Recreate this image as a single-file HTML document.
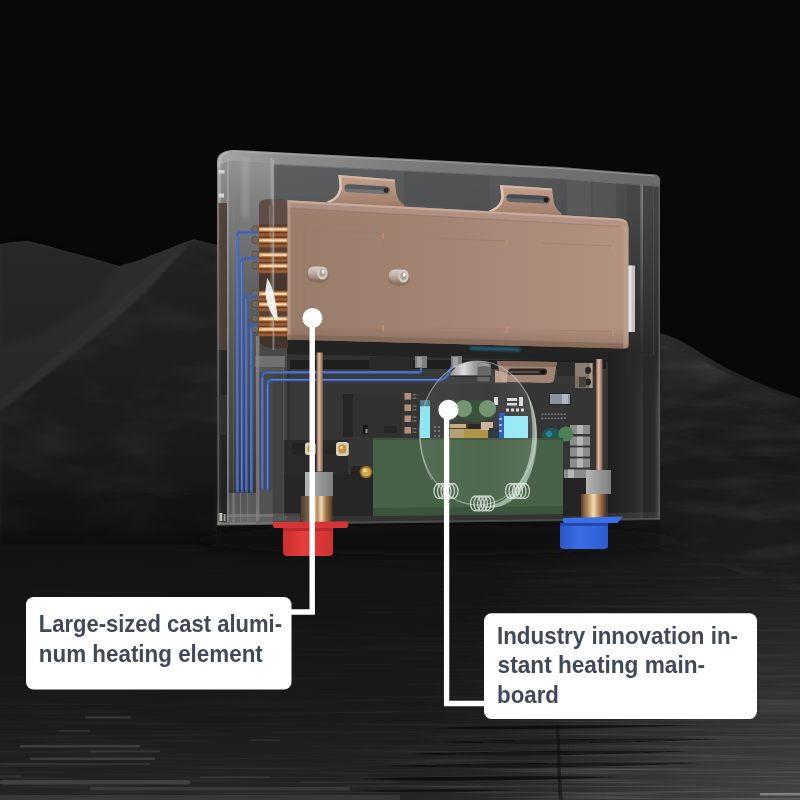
<!DOCTYPE html>
<html lang="en">
<head>
<meta charset="utf-8">
<title>Instant water heater – internal structure</title>
<style>
  html, body { margin: 0; padding: 0; background: #070707; }
  body { width: 800px; height: 800px; overflow: hidden; font-family: "Liberation Sans", sans-serif; }
  svg { display: block; }
  .lbl { font-family: "Liberation Sans", sans-serif; font-weight: bold; font-size: 23.2px; fill: #40485a; }
</style>
</head>
<body>
<svg width="800" height="800" viewBox="0 0 800 800">
  <defs>
    <linearGradient id="mtnL" gradientUnits="userSpaceOnUse" x1="0" y1="238" x2="0" y2="545">
      <stop offset="0" stop-color="#2e2e2e"/>
      <stop offset="0.35" stop-color="#2a2a2a"/>
      <stop offset="0.7" stop-color="#242424"/>
      <stop offset="0.92" stop-color="#1c1c1c"/>
      <stop offset="1" stop-color="#141414"/>
    </linearGradient>
    <linearGradient id="mtnR" gradientUnits="userSpaceOnUse" x1="0" y1="330" x2="0" y2="580">
      <stop offset="0" stop-color="#2a2a2a"/>
      <stop offset="0.2" stop-color="#222222"/>
      <stop offset="0.45" stop-color="#1a1a1a"/>
      <stop offset="0.75" stop-color="#161616"/>
      <stop offset="1" stop-color="#121212"/>
    </linearGradient>
    <linearGradient id="water" gradientUnits="userSpaceOnUse" x1="0" y1="540" x2="0" y2="800">
      <stop offset="0" stop-color="#131313"/>
      <stop offset="0.5" stop-color="#161616"/>
      <stop offset="1" stop-color="#1c1c1c"/>
    </linearGradient>
    <linearGradient id="copperBox" gradientUnits="userSpaceOnUse" x1="287" y1="0" x2="627" y2="0">
      <stop offset="0" stop-color="#997b6a"/>
      <stop offset="0.45" stop-color="#a38472"/>
      <stop offset="1" stop-color="#b3927f"/>
    </linearGradient>
    <linearGradient id="copperV" gradientUnits="userSpaceOnUse" x1="0" y1="200" x2="0" y2="350">
      <stop offset="0" stop-color="#ffffff" stop-opacity="0.10"/>
      <stop offset="0.12" stop-color="#ffffff" stop-opacity="0"/>
      <stop offset="0.85" stop-color="#000000" stop-opacity="0"/>
      <stop offset="1" stop-color="#000000" stop-opacity="0.18"/>
    </linearGradient>
    <linearGradient id="glassSide" gradientUnits="userSpaceOnUse" x1="0" y1="150" x2="0" y2="525">
      <stop offset="0" stop-color="#989898"/>
      <stop offset="0.12" stop-color="#828282"/>
      <stop offset="0.35" stop-color="#646464"/>
      <stop offset="0.6" stop-color="#4e4e4e"/>
      <stop offset="0.8" stop-color="#424242"/>
      <stop offset="0.92" stop-color="#383838"/>
      <stop offset="1" stop-color="#555555"/>
    </linearGradient>
    <linearGradient id="glassUp" gradientUnits="userSpaceOnUse" x1="273" y1="0" x2="660" y2="0">
      <stop offset="0" stop-color="#58595a"/>
      <stop offset="0.25" stop-color="#56585a"/>
      <stop offset="0.6" stop-color="#525456"/>
      <stop offset="0.85" stop-color="#4c4d4e"/>
      <stop offset="1" stop-color="#444444"/>
    </linearGradient>
    <linearGradient id="glassTop" gradientUnits="userSpaceOnUse" x1="217" y1="0" x2="660" y2="0">
      <stop offset="0" stop-color="#a6a6a6"/>
      <stop offset="0.15" stop-color="#8e8e8e"/>
      <stop offset="0.5" stop-color="#787878"/>
      <stop offset="1" stop-color="#6a6a6a"/>
    </linearGradient>
    <linearGradient id="glassRight" gradientUnits="userSpaceOnUse" x1="608" y1="0" x2="660" y2="0">
      <stop offset="0" stop-color="#1f1f1f"/>
      <stop offset="0.25" stop-color="#242424"/>
      <stop offset="0.5" stop-color="#2b2b2b"/>
      <stop offset="0.62" stop-color="#323232"/>
      <stop offset="0.7" stop-color="#262626"/>
      <stop offset="0.9" stop-color="#2c2c2c"/>
      <stop offset="0.96" stop-color="#444444"/>
      <stop offset="1" stop-color="#343434"/>
    </linearGradient>
    <linearGradient id="gold" x1="0" y1="0" x2="1" y2="0">
      <stop offset="0" stop-color="#5d3e2a"/>
      <stop offset="0.28" stop-color="#b98c5e"/>
      <stop offset="0.5" stop-color="#f1dcb0"/>
      <stop offset="0.72" stop-color="#b5845a"/>
      <stop offset="1" stop-color="#553624"/>
    </linearGradient>
    <linearGradient id="rod" x1="0" y1="0" x2="1" y2="0">
      <stop offset="0" stop-color="#7c5a48"/>
      <stop offset="0.4" stop-color="#dcbca8"/>
      <stop offset="1" stop-color="#86624e"/>
    </linearGradient>
    <linearGradient id="ring" x1="0" y1="0" x2="0" y2="1">
      <stop offset="0" stop-color="#7a4220"/>
      <stop offset="0.3" stop-color="#e8a868"/>
      <stop offset="0.5" stop-color="#f6c890"/>
      <stop offset="0.75" stop-color="#c88048"/>
      <stop offset="1" stop-color="#6a3618"/>
    </linearGradient>
    <linearGradient id="greyBlk" x1="0" y1="0" x2="1" y2="0">
      <stop offset="0" stop-color="#b4b4b4"/>
      <stop offset="0.5" stop-color="#9a9a9a"/>
      <stop offset="1" stop-color="#7e7e7e"/>
    </linearGradient>
    <linearGradient id="redF" x1="0" y1="0" x2="1" y2="0">
      <stop offset="0" stop-color="#c92f2f"/>
      <stop offset="0.4" stop-color="#e43d3d"/>
      <stop offset="1" stop-color="#cf3232"/>
    </linearGradient>
    <linearGradient id="blueF" x1="0" y1="0" x2="1" y2="0">
      <stop offset="0" stop-color="#2a57c4"/>
      <stop offset="0.4" stop-color="#3a6ee6"/>
      <stop offset="1" stop-color="#2c5cd0"/>
    </linearGradient>
    <linearGradient id="lensHi" gradientUnits="userSpaceOnUse" x1="420" y1="0" x2="536" y2="0">
      <stop offset="0" stop-color="#ffffff" stop-opacity="0.07"/>
      <stop offset="0.6" stop-color="#ffffff" stop-opacity="0.04"/>
      <stop offset="1" stop-color="#ffffff" stop-opacity="0.12"/>
    </linearGradient>
    <linearGradient id="metal" x1="0" y1="0" x2="1" y2="0">
      <stop offset="0" stop-color="#9a9a9a"/>
      <stop offset="0.35" stop-color="#e8e8e8"/>
      <stop offset="0.6" stop-color="#a8a8a8"/>
      <stop offset="1" stop-color="#6a6a6a"/>
    </linearGradient>
    <linearGradient id="sheenV" gradientUnits="userSpaceOnUse" x1="0" y1="600" x2="0" y2="800">
      <stop offset="0" stop-color="#ffffff" stop-opacity="0"/>
      <stop offset="0.6" stop-color="#ffffff" stop-opacity="0.01"/>
      <stop offset="1" stop-color="#ffffff" stop-opacity="0.04"/>
    </linearGradient>
    <radialGradient id="sheenR" gradientUnits="userSpaceOnUse" cx="820" cy="830" r="420">
      <stop offset="0" stop-color="#ffffff" stop-opacity="0.15"/>
      <stop offset="0.35" stop-color="#ffffff" stop-opacity="0.10"/>
      <stop offset="0.7" stop-color="#ffffff" stop-opacity="0.03"/>
      <stop offset="1" stop-color="#ffffff" stop-opacity="0"/>
    </radialGradient>
    <filter id="streaks" x="0" y="0" width="100%" height="100%" filterUnits="objectBoundingBox">
      <feTurbulence type="fractalNoise" baseFrequency="0.006 0.35" numOctaves="2" seed="7" result="n"/>
      <feColorMatrix in="n" type="matrix" values="0 0 0 0 1  0 0 0 0 1  0 0 0 0 1  2.2 0 0 0 -1.05" result="a"/>
      <feComposite in="a" in2="SourceGraphic" operator="in"/>
    </filter>
    <filter id="rock" x="0" y="0" width="100%" height="100%" filterUnits="objectBoundingBox">
      <feTurbulence type="fractalNoise" baseFrequency="0.012 0.03" numOctaves="4" seed="3" result="n"/>
      <feColorMatrix in="n" type="matrix" values="0 0 0 0 1  0 0 0 0 1  0 0 0 0 1  1.6 0 0 0 -0.72" result="a"/>
      <feComposite in="a" in2="SourceGraphic" operator="in"/>
    </filter>
    <linearGradient id="streakFade" gradientUnits="userSpaceOnUse" x1="0" y1="560" x2="0" y2="800">
      <stop offset="0" stop-color="#ffffff" stop-opacity="0.04"/>
      <stop offset="0.5" stop-color="#ffffff" stop-opacity="0.08"/>
      <stop offset="1" stop-color="#ffffff" stop-opacity="0.22"/>
    </linearGradient>
    <linearGradient id="streakFadeH" gradientUnits="userSpaceOnUse" x1="0" y1="0" x2="800" y2="0">
      <stop offset="0" stop-color="#000000" stop-opacity="0.65"/>
      <stop offset="0.45" stop-color="#000000" stop-opacity="0.55"/>
      <stop offset="0.8" stop-color="#000000" stop-opacity="0"/>
    </linearGradient>
    <mask id="streakMask" maskUnits="userSpaceOnUse" x="0" y="560" width="800" height="240">
      <rect x="0" y="560" width="800" height="240" fill="url(#streakFade)"/>
      <rect x="0" y="560" width="800" height="240" fill="url(#streakFadeH)"/>
    </mask>
    <linearGradient id="upTopFade" gradientUnits="userSpaceOnUse" x1="0" y1="160" x2="0" y2="215">
      <stop offset="0" stop-color="#ffffff" stop-opacity="0.03"/>
      <stop offset="1" stop-color="#ffffff" stop-opacity="0"/>
    </linearGradient>
    <linearGradient id="brk" x1="0" y1="0" x2="0" y2="1">
      <stop offset="0" stop-color="#c4a28e"/>
      <stop offset="0.5" stop-color="#b38f7a"/>
      <stop offset="1" stop-color="#9c7a66"/>
    </linearGradient>
    <linearGradient id="scr" x1="0" y1="0" x2="0" y2="1">
      <stop offset="0" stop-color="#d9cdc6"/>
      <stop offset="0.45" stop-color="#c2b2aa"/>
      <stop offset="1" stop-color="#8e7a70"/>
    </linearGradient>
    <linearGradient id="rightFade" gradientUnits="userSpaceOnUse" x1="0" y1="205" x2="0" y2="353">
      <stop offset="0" stop-color="#282828" stop-opacity="0"/>
      <stop offset="0.5" stop-color="#282828" stop-opacity="0.45"/>
      <stop offset="1" stop-color="#282828" stop-opacity="0.95"/>
    </linearGradient>
    <filter id="rockR" x="0" y="0" width="100%" height="100%" filterUnits="objectBoundingBox">
      <feTurbulence type="fractalNoise" baseFrequency="0.01 0.05" numOctaves="4" seed="11" result="n"/>
      <feColorMatrix in="n" type="matrix" values="0 0 0 0 1  0 0 0 0 1  0 0 0 0 1  1.8 0 0 0 -0.8" result="a"/>
      <feComposite in="a" in2="SourceGraphic" operator="in"/>
    </filter>
    <linearGradient id="gold2" x1="0" y1="0" x2="1" y2="0">
      <stop offset="0" stop-color="#4c3c30"/>
      <stop offset="0.25" stop-color="#7c6450"/>
      <stop offset="0.42" stop-color="#e8d4b0"/>
      <stop offset="0.52" stop-color="#b08858"/>
      <stop offset="0.64" stop-color="#f0dcb4"/>
      <stop offset="0.78" stop-color="#a87c50"/>
      <stop offset="1" stop-color="#4a3424"/>
    </linearGradient>
    <linearGradient id="rightFade2" gradientUnits="userSpaceOnUse" x1="0" y1="352" x2="0" y2="412">
      <stop offset="0" stop-color="#282828" stop-opacity="0.95"/>
      <stop offset="1" stop-color="#282828" stop-opacity="0"/>
    </linearGradient>
    <filter id="b1" x="-20%" y="-60%" width="140%" height="220%"><feGaussianBlur stdDeviation="1"/></filter>
    <filter id="b2" x="-30%" y="-60%" width="160%" height="220%"><feGaussianBlur stdDeviation="2.5"/></filter>
    <filter id="b6" x="-30%" y="-150%" width="160%" height="400%"><feGaussianBlur stdDeviation="6"/></filter>
    <filter id="b05" x="-10%" y="-10%" width="120%" height="120%"><feGaussianBlur stdDeviation="0.5"/></filter>
  </defs>

  <!-- ============ BACKGROUND ============ -->
  <rect width="800" height="800" fill="#080808"/>

  <!-- left mountain range -->
  <path d="M0,244 L12,242 L28,241 L45,245 L62,250 L92,258 L119,266 L140,260 L160,252 L180,244 L194,239 L205,242 L217,245 L217,560 L0,560 Z" fill="url(#mtnL)"/>
  <!-- facets / shading on left mountains -->
  <path d="M0,244 L28,241 L62,250 L119,266 L95,300 L40,335 L0,345 Z" fill="#000000" opacity="0.12" filter="url(#b2)"/>
  <path d="M194,239 L217,245 L217,565 L0,565 L0,412 L60,365 L110,325 L150,288 Z" fill="#000000" opacity="0.26" filter="url(#b1)"/>
  <path d="M194,239 L150,288 L110,325 L60,365 L0,412 L0,400 L60,352 L108,312 L146,277 Z" fill="#ffffff" opacity="0.018" filter="url(#b1)"/>
  <g opacity="0.07"><path d="M194,239 L217,245 L217,545 L0,545 L0,412 L60,365 L110,325 L150,288 Z" fill="#ffffff" filter="url(#rock)"/></g>
  <path d="M0,500 C60,490 130,500 217,490 L217,548 L0,548 Z" fill="#0c0c0c" opacity="0.3" filter="url(#b2)"/>
  <!-- right mountain -->
  <path d="M655,332 C672,335 688,344 704,355 C730,372 768,388 800,398 L800,600 L655,600 Z" fill="url(#mtnR)"/>
  <path d="M662,336 C680,342 700,356 730,374 L700,395 L662,410 Z" fill="#343434" opacity="0.3" filter="url(#b2)"/>
  <g opacity="0.09"><path d="M660,345 C690,350 730,380 800,402 L800,590 L660,590 Z" fill="#ffffff" filter="url(#rockR)"/></g>
  <g fill="none" stroke="#0c0c0c" stroke-width="3" opacity="0.22" filter="url(#b2)">
    <path d="M662,396 C690,384 735,400 800,418"/>
    <path d="M662,452 C720,436 750,462 800,470"/>
    <path d="M662,512 C700,498 770,506 800,530"/>
  </g>
  <!-- water -->
  <path d="M0,545 L217,545 L660,548 C700,556 750,578 800,592 L800,800 L0,800 Z" fill="url(#water)"/>
  <rect x="217" y="520" width="443" height="30" fill="#111111"/>
  <ellipse cx="438" cy="540" rx="245" ry="15" fill="#0b0b0b" opacity="0.55" filter="url(#b6)"/>
    <!-- soft sheen: brighter toward bottom, esp. right -->
  <rect x="0" y="600" width="800" height="200" fill="url(#sheenV)"/>
  <rect x="380" y="400" width="420" height="400" fill="url(#sheenR)"/>
  <!-- turbulent streak texture -->
  <g mask="url(#streakMask)"><rect x="0" y="560" width="800" height="240" fill="#ffffff" filter="url(#streaks)"/></g>
  <!-- a few defined streaks -->
  <g fill="#444444" filter="url(#b05)">
    <rect x="85" y="716.5" width="46" height="2" rx="1" opacity="0.7"/>
    <rect x="57" y="730" width="33" height="1.6" rx="0.8" opacity="0.5"/>
    <rect x="20" y="745" width="120" height="2.6" rx="1.3" opacity="0.8"/>
    <rect x="90" y="750.5" width="70" height="2" rx="1" opacity="0.65"/>
    <rect x="30" y="757.5" width="125" height="2.6" rx="1.3" opacity="0.8"/>
    <rect x="0" y="763" width="150" height="2" rx="1" opacity="0.55"/>
    <rect x="0" y="775.5" width="22" height="1.6" opacity="0.5"/>
    <rect x="0" y="780" width="190" height="4.5" rx="2" opacity="0.85"/>
    <rect x="90" y="787" width="260" height="3.5" rx="1.7" opacity="0.7"/>
    <rect x="200" y="776.5" width="70" height="1.8" rx="0.9" opacity="0.6"/>
    <rect x="250" y="739.5" width="30" height="1.4" rx="0.7" opacity="0.5"/>
    <rect x="0" y="795" width="400" height="5" opacity="0.6"/>
    <rect x="300" y="781.5" width="100" height="1.6" rx="0.8" opacity="0.4"/>
    <rect x="760" y="700" width="40" height="14" opacity="0.45"/>
    <rect x="760" y="793" width="40" height="2.5" fill="#9a9a9a" opacity="0.7"/>
  </g>
  <!-- dark wedges on right -->
  <g fill="#0a0a0a" filter="url(#b05)">
    <path d="M430,728 Q520,725 700,725 Q520,731 430,728 Z" opacity="0.6"/>
    <path d="M440,742 Q560,738 720,739 Q560,746 440,742 Z" opacity="0.65"/>
    <path d="M410,754 Q540,750 690,751 Q540,758 410,754 Z" opacity="0.7"/>
    <path d="M380,766 Q540,761 700,763 Q540,770 380,766 Z" opacity="0.7"/>
    <path d="M360,779 Q480,775 620,777 Q480,783 360,779 Z" opacity="0.6"/>
    <path d="M350,791 Q430,788 520,790 Q430,794 350,791 Z" opacity="0.5"/>
  </g>
  <!-- dark vertical reflection in water -->
  <path d="M558,725 C562,750 559,770 563,800 L559,800 C556,770 559,750 556,725 Z" fill="#0a0a0a" opacity="0.55" filter="url(#b05)"/>

  <!-- ============ GLASS CASE (back layers) ============ -->
  <!-- body base -->
  <path d="M217,524 L217,162 Q217,150 234,150 L450,161 L560,167 L655,174.5 Q660,175 660,180 L660,519 Z" fill="#262626"/>
  <!-- upper interior -->
  <path d="M273,160 L450,169 L560,175 L660,183 L660,356 L273,356 Z" fill="url(#glassUp)"/>
  <path d="M273,160 L450,169 L560,175 L660,183 L660,215 L273,195 Z" fill="url(#upTopFade)"/>
  <!-- subtle vertical panels in upper interior -->
  <path d="M567,176 L591,177.5 L591,216 L567,215 Z" fill="#5c5c5c" opacity="0.7"/>
  <path d="M593,178 L616,179.5 L616,217 L593,216 Z" fill="#585858" opacity="0.7"/>
  <path d="M404,167 L490,171 L490,211 L404,204 Z" fill="#4e4e4e" opacity="0.5"/>
  <path d="M627,180 L660,183 L660,356 L627,356 Z" fill="#464646"/>
  <!-- lower interior -->
  <path d="M258,350 L640,350 L640,518 L258,523 Z" fill="#333333"/>
  <!-- band right under the heater (shadow + blue glow) -->
  <path d="M287,339.5 L627,348.5 L627,362 L287,354 Z" fill="#232323"/>
  <path d="M470,346.5 L520,348 L520,351.5 L470,350 Z" fill="#2a8ab4" opacity="0.55" filter="url(#b1)"/>
  <!-- left side panel -->
  <path d="M217,524 L217,162 Q217,151 232,151 L273,153 L273,522 Z" fill="url(#glassSide)"/>
  <!-- inner darker column behind coil block (x 258-287) -->
  <path d="M258,345 L287,345 L287,520 L258,522 Z" fill="#484848"/>
  <rect x="273" y="367" width="14" height="154" fill="#424242"/>
  <!-- right glass band -->
  <path d="M608,352 L660,352 L660,519 L608,519 Z" fill="url(#glassRight)"/>
  <path d="M643,182 L660,183 L660,356 L643,356 Z" fill="#444444"/>
  <path d="M640.5,183 L643,183.3 L643,352 L640.5,352 Z" fill="#9a9a9a" opacity="0.6"/>
  <path d="M640.5,352 L643,352 L643,519 L640.5,519 Z" fill="#6a6a6a" opacity="0.15"/>
  <rect x="627" y="205" width="33" height="148" fill="url(#rightFade)"/>
  <rect x="627" y="352" width="33" height="60" fill="url(#rightFade2)"/>
  <!-- top rim -->
  <path d="M217,166 Q217,150 234,150 L450,161 L560,167 L655,174.5 Q660,175 660,180 L660,186 L560,178 L450,172.5 L273,164 L232,161 Q222,161 217,168 Z" fill="url(#glassTop)"/>
  <path d="M232,151.5 L450,162.5 L560,168.5 L655,176" stroke="#b0b0b0" stroke-width="1.2" opacity="0.6" fill="none"/>
  <path d="M232,161.5 L273,164.5 L450,173 L560,178.5 L659,186.5" stroke="#8a8a8a" stroke-width="1" opacity="0.5" fill="none"/>

  <!-- ============ HEATING ELEMENT ============ -->
  <!-- coil end block -->
  <path d="M259,206 Q259,199.5 266,199.5 L281,199.5 Q288,199.5 288,206 L288,348 L270,348 Q259,348 259,337 Z" fill="#524239"/>
  <path d="M259,206 Q259,199.5 266,199.5 L281,199.5 Q288,199.5 288,206 L288,224 L259,224 Z" fill="#5e4e45"/>
  <path d="M259,274 L288,274 L288,290 L259,290 Z" fill="#47372f"/>
  <path d="M259,334 L288,334 L288,348 L270,348 Q259,348 259,337 Z" fill="#43342e"/>
  <!-- copper rings -->
  <g>
    <rect x="258.5" y="226.5" width="29.5" height="6" fill="url(#ring)"/>
    <rect x="258.5" y="233.3" width="29.5" height="3" fill="#9a5a30"/>
    <rect x="262" y="228.6" width="24" height="1.6" fill="#ffe6c0" opacity="0.9"/>
    <rect x="258.5" y="237.5" width="29.5" height="6" fill="url(#ring)"/>
    <rect x="258.5" y="244.3" width="29.5" height="3" fill="#9a5a30"/>
    <rect x="262" y="239.6" width="24" height="1.6" fill="#ffe6c0" opacity="0.9"/>
    <rect x="258.5" y="252.0" width="29.5" height="6" fill="url(#ring)"/>
    <rect x="258.5" y="258.8" width="29.5" height="3" fill="#9a5a30"/>
    <rect x="262" y="254.1" width="24" height="1.6" fill="#ffe6c0" opacity="0.9"/>
    <rect x="258.5" y="263.0" width="29.5" height="6" fill="url(#ring)"/>
    <rect x="258.5" y="269.8" width="29.5" height="3" fill="#9a5a30"/>
    <rect x="262" y="265.1" width="24" height="1.6" fill="#ffe6c0" opacity="0.9"/>
    <rect x="258.5" y="291.0" width="29.5" height="6" fill="url(#ring)"/>
    <rect x="258.5" y="297.8" width="29.5" height="3" fill="#9a5a30"/>
    <rect x="262" y="293.1" width="24" height="1.6" fill="#ffe6c0" opacity="0.9"/>
    <rect x="258.5" y="301.5" width="29.5" height="6" fill="url(#ring)"/>
    <rect x="258.5" y="308.3" width="29.5" height="3" fill="#9a5a30"/>
    <rect x="262" y="303.6" width="24" height="1.6" fill="#ffe6c0" opacity="0.9"/>
    <rect x="258.5" y="316.0" width="29.5" height="6" fill="url(#ring)"/>
    <rect x="258.5" y="322.8" width="29.5" height="3" fill="#9a5a30"/>
    <rect x="262" y="318.1" width="24" height="1.6" fill="#ffe6c0" opacity="0.9"/>
    <rect x="258.5" y="326.5" width="29.5" height="6" fill="url(#ring)"/>
    <rect x="258.5" y="333.3" width="29.5" height="3" fill="#9a5a30"/>
    <rect x="262" y="328.6" width="24" height="1.6" fill="#ffe6c0" opacity="0.9"/>
  </g>
  <!-- pipe end caps -->
  <g fill="#6f665c" stroke="#4a423a" stroke-width="0.6">
    <circle cx="255.3" cy="229.0" r="3.6"/>
    <circle cx="255.3" cy="240.0" r="3.6"/>
    <circle cx="255.3" cy="254.5" r="3.6"/>
    <circle cx="255.3" cy="265.5" r="3.6"/>
    <circle cx="255.3" cy="293.5" r="3.6"/>
    <circle cx="255.3" cy="304.0" r="3.6"/>
    <circle cx="255.3" cy="318.5" r="3.6"/>
    <circle cx="255.3" cy="329.0" r="3.6"/>
  </g>

  <!-- brackets (behind box) -->
  <g>
    <path d="M327,201.5 C334,199 338.5,195 339.5,187 L338.5,175 L394.7,179.6 L396.3,193 C397.5,199 400.5,202.5 404,204.5 L404,208 L327,205 Z" fill="url(#brk)"/>
    <path d="M327,201.5 C334,199 338.5,195 339.5,187 L338.5,175 L341,175.2 L342,187.5 C341,196 336,200.5 329,203 Z" fill="#ecd6c8" opacity="0.75"/>
    <path d="M338.5,175 L394.7,179.6 L394.9,181.6 L338.7,177 Z" fill="#d8bcac" opacity="0.8"/>
    <path d="M349,184.3 L385.5,186.5 Q390,187 390,190.8 Q390,194.6 385.5,194.2 L349,192.2 Q344.5,192 344.5,188.2 Q344.5,184.2 349,184.3 Z" fill="#6c7276"/>
    <path d="M349,184.3 L385.5,186.5 Q390,187 390,190.8 L344.5,188.2 Q344.5,184.2 349,184.3 Z" fill="#4a4e52" opacity="0.7"/>
    <circle cx="386" cy="190.5" r="2.4" fill="#2a2522"/>
  </g>
  <g>
    <path d="M489,210.5 C496,208 500.5,204 501.3,197 L500.2,185 L552,188.5 L553.8,202 C555,207.5 558,211 561.5,213 L561.5,217 L489,214 Z" fill="url(#brk)"/>
    <path d="M489,210.5 C496,208 500.5,204 501.3,197 L500.2,185 L502.8,185.2 L503.8,197.3 C503,205 498,209.5 491,212 Z" fill="#ecd6c8" opacity="0.75"/>
    <path d="M500.2,185 L552,188.5 L552.2,190.5 L500.4,187 Z" fill="#d8bcac" opacity="0.8"/>
    <path d="M511,194.2 L545.5,196 Q549.8,196.4 549.8,200.2 Q549.8,204 545.5,203.6 L511,202 Q506.5,201.8 506.5,198 Q506.5,194 511,194.2 Z" fill="#5c6268"/>
    <path d="M511,194.2 L545.5,196 Q549.8,196.4 549.8,200.2 L506.5,198 Q506.5,194 511,194.2 Z" fill="#3e4246" opacity="0.7"/>
    <circle cx="546" cy="200" r="2.4" fill="#1e1a18"/>
  </g>

  <!-- box face -->
  <path d="M287.5,200.2 L619,218.4 Q628.5,219 628.5,228 L628.5,345 Q628.5,348.6 625,348.5 L287.5,339.5 Z" fill="url(#copperBox)"/>
  <path d="M287.5,200.2 L619,218.4 Q628.5,219 628.5,228 L628.5,345 Q628.5,348.6 625,348.5 L287.5,339.5 Z" fill="url(#copperV)"/>
  <!-- top bevel -->
  <path d="M287.5,200.2 L619,218.4 Q628.5,219 628.5,228 L624,228 Q624,226 620,225.8 L287.5,207.6 Z" fill="#b8988a" opacity="0.55"/>
  <path d="M287.5,200.2 L619,218.4 Q626,218.8 627.8,223 L619,220.6 L287.5,202.4 Z" fill="#cdb0a0" opacity="0.8"/>
  <path d="M290,208.5 L620,226.6" stroke="#8a6c5c" stroke-width="0.8" opacity="0.45" fill="none"/>
  <!-- left bevel -->
  <path d="M287.5,200.2 L290.5,202.5 L290.5,339.6 L287.5,339.5 Z" fill="#bfa090" opacity="0.7"/>
  <!-- bottom shade -->
  <path d="M287.5,334.5 L628.5,343.5 L628.5,345 Q628.5,348.6 625,348.5 L287.5,339.5 Z" fill="#80604e" opacity="0.55"/>
  <!-- right side edge -->
  <path d="M623.5,226 L628.5,228 L628.5,346 L623.5,348.4 Z" fill="#c2a594" opacity="0.6"/>
  <!-- faint panel lines -->
  <g fill="none" stroke="#9a735c" stroke-width="0.8" opacity="0.55">
    <path d="M304,230 L383,233 M383,233 L383,250"/>
    <path d="M304,230 L304,330"/>
    <path d="M304,330 L383,331"/>
    <path d="M430,238 L506,241"/>
    <path d="M430,328 L506,329.5"/>
    <path d="M542,243 L612,246"/>
    <path d="M542,330 L612,331.5"/>
  </g>
  <g fill="#cf9672" opacity="0.85">
    <rect x="382.3" y="233" width="1.4" height="6"/>
    <rect x="382.3" y="325" width="1.4" height="6"/>
    <rect x="506.2" y="240" width="1.3" height="5.5"/>
    <rect x="506.2" y="327" width="1.3" height="5.5"/>
    <rect x="612.2" y="245" width="1.3" height="5.5"/>
    <rect x="612.2" y="331" width="1.3" height="5.5"/>
  </g>
  <!-- screws -->
  <g>
    <ellipse cx="318" cy="276" rx="11" ry="7" fill="#6e5446" opacity="0.35"/>
    <rect x="308" y="266.5" width="17" height="13" rx="5.5" fill="url(#scr)"/>
    <ellipse cx="322.5" cy="273" rx="5.2" ry="6.6" fill="#d2c9c3"/>
    <ellipse cx="322.5" cy="273" rx="3" ry="3.8" fill="#a69c95"/>
    <ellipse cx="323.2" cy="271.8" rx="1.6" ry="2" fill="#f4f0ec"/>
    <ellipse cx="399" cy="279" rx="11" ry="7" fill="#6e5446" opacity="0.35"/>
    <rect x="389" y="269.5" width="17" height="13" rx="5.5" fill="url(#scr)"/>
    <ellipse cx="403.5" cy="276" rx="5.2" ry="6.6" fill="#d2c9c3"/>
    <ellipse cx="403.5" cy="276" rx="3" ry="3.8" fill="#a69c95"/>
    <ellipse cx="404.2" cy="274.8" rx="1.6" ry="2" fill="#f4f0ec"/>
  </g>
  <!-- white tab on right of heater -->
  <rect x="628.5" y="265.5" width="6.5" height="66.5" fill="#c4c4c4"/>
  <rect x="628.5" y="265.5" width="3" height="66.5" fill="#e4e4e4"/>

  <!-- ============ LOWER SECTION ============ -->
  <!-- back board (black PCB) -->
  <path d="M290,360 L606,362 L606,512 L290,516 Z" fill="#393939"/>
  <path d="M324,384 L606,384 L606,512 L324,514 Z" fill="#353535"/>
  <rect x="290" y="360" width="316" height="9" fill="#1e1e1e"/>
  <!-- dark modules on the left of board -->
  <rect x="343" y="394" width="10" height="43" fill="#262626"/>
  <rect x="353" y="394" width="49" height="43" fill="#303030"/>
  <rect x="363" y="425" width="5" height="9" fill="#141414"/><rect x="365.5" y="429" width="2" height="4" fill="#9a9a9a"/>
  <rect x="384" y="426" width="13" height="7" fill="#262626"/>
  <rect x="283" y="440" width="65" height="34" fill="#2a2a2a"/>
  <rect x="283" y="474" width="90" height="42" fill="#262626"/>
  <!-- ============ BLUE TUBES ============ -->
  <g fill="none" stroke="#3b63c2" stroke-width="2.5" stroke-linejoin="round">
    <path d="M258,232.5 L240,232.5 Q237.5,232.5 237.5,235 L237.5,492.5"/>
    <path d="M258,258.5 L244.5,258.5 Q242,258.5 242,261 L242,492.5"/>
    <path d="M258,295.5 L249,295.5 Q246.5,295.5 246.5,298 L246.5,492.5"/>
    <path d="M258,324.5 L254,324.5 Q251.5,324.5 251.5,327 L251.5,492.5"/>
    <path d="M262.5,490 L262.5,376 Q262.5,372.5 266,372.5 L419,372.5 Q421,372.5 421,370 L421,366"/>
    <path d="M267.8,490 L267.8,383.5 Q267.8,380 271,380 L438,380 Q446,380 449,372 L452,366"/>
  </g>
  <g fill="none" stroke="#7f9fee" stroke-width="0.9" opacity="0.6">
    <path d="M237,236 L237,490"/><path d="M241.5,262 L241.5,490"/><path d="M246,299 L246,490"/><path d="M251,328 L251,490"/>
    <path d="M262,378 L262,488"/><path d="M267.3,385 L267.3,488"/>
    <path d="M266,372 L419,372"/><path d="M271,379.5 L438,379.5"/>
  </g>
  <!-- tube bottoms: grey sleeve -->
  <rect x="229" y="493" width="27" height="31" fill="#5e5e5e" opacity="0.85"/>
  <rect x="259.5" y="490" width="13" height="33" fill="#555555" opacity="0.85"/>
  <rect x="232" y="493" width="3" height="30" fill="#7a7a7a" opacity="0.6"/>
  <rect x="240" y="493" width="1.2" height="30" fill="#8a8a8a" opacity="0.6"/>
  <rect x="247" y="493" width="1.2" height="30" fill="#8a8a8a" opacity="0.5"/>
  <rect x="229" y="514" width="44" height="3" fill="#8c8c8c" opacity="0.5"/>
  <!-- grey connectors under heater -->
  <rect x="256" y="356" width="28" height="16" fill="#5b5b5b" opacity="0.75"/>
  <rect x="415" y="356" width="12" height="12" fill="#7d7d7d"/>
  <rect x="417" y="357" width="5" height="10" fill="#a0a0a0"/>
  <rect x="451" y="356" width="11" height="12" fill="#7d7d7d"/>
  <rect x="453" y="357" width="5" height="10" fill="#a0a0a0"/>
  <rect x="369" y="357" width="44" height="13" fill="#2a2a2a"/>
  <!-- lower bracket of heater -->
  <path d="M497,361 L557,362 L554,380 Q553,383 549,383 L506,382 Q502,382 501,379 Z" fill="#a08474"/>
  <path d="M497,361 L557,362 L556,367 L498,366 Z" fill="#866a5a"/>
  <rect x="508" y="368.5" width="39" height="6.5" rx="3.2" fill="#2d2825"/>
  <rect x="510" y="371" width="29" height="2" rx="1" fill="#55504c"/>
  <circle cx="543" cy="371.8" r="2.2" fill="#151210"/>
  <!-- right block & connector near rod -->
  <rect x="557" y="362" width="38" height="14" fill="#2c2c2c"/>
  <rect x="575" y="363" width="17.5" height="25" fill="#7d7166"/>
  <rect x="575" y="363" width="12" height="13" fill="#8a7e72"/>
  <rect x="589.5" y="363" width="3" height="25" fill="#a89a8c"/>
  <ellipse cx="588" cy="370.5" rx="3" ry="3.4" fill="#2a2522"/>
  <ellipse cx="588" cy="382" rx="3" ry="3.4" fill="#2a2522"/>
  <rect x="579" y="377" width="7" height="10" fill="#4a423c"/>
  <!-- silver chip -->
  <rect x="549" y="393" width="22" height="12" fill="#262626"/>
  <rect x="550" y="394" width="20" height="10" fill="#8d939b"/>
  <rect x="562" y="394" width="6" height="10" fill="#b4b8be"/>
  <!-- dotted solder rows -->
  <g fill="#8a8a8a" opacity="0.8"><rect x="541.5" y="413.5" width="1.8" height="1.6"/><rect x="541.5" y="417.5" width="1.8" height="1.6"/><rect x="544.7" y="413.5" width="1.8" height="1.6"/><rect x="544.7" y="417.5" width="1.8" height="1.6"/><rect x="547.9" y="413.5" width="1.8" height="1.6"/><rect x="547.9" y="417.5" width="1.8" height="1.6"/><rect x="551.1" y="413.5" width="1.8" height="1.6"/><rect x="551.1" y="417.5" width="1.8" height="1.6"/><rect x="554.3" y="413.5" width="1.8" height="1.6"/><rect x="554.3" y="417.5" width="1.8" height="1.6"/><rect x="557.5" y="413.5" width="1.8" height="1.6"/><rect x="557.5" y="417.5" width="1.8" height="1.6"/><rect x="560.7" y="413.5" width="1.8" height="1.6"/><rect x="560.7" y="417.5" width="1.8" height="1.6"/><rect x="563.9" y="413.5" width="1.8" height="1.6"/><rect x="563.9" y="417.5" width="1.8" height="1.6"/></g>
  <!-- left column small pads -->
  <g fill="#b48e7c">
    <rect x="404.5" y="393" width="6.5" height="6.5"/>
    <rect x="404.5" y="404.5" width="6.5" height="6.5"/>
    <rect x="404.5" y="415.5" width="6.5" height="6.5"/>
    <rect x="404.5" y="427" width="6.5" height="6.5"/>
  </g>
  <g fill="#6a6a6a">
    <rect x="412.5" y="394" width="4" height="1.5"/><rect x="412.5" y="397.5" width="4" height="1.5"/>
    <rect x="412.5" y="405.5" width="4" height="1.5"/><rect x="412.5" y="409" width="4" height="1.5"/>
    <rect x="412.5" y="416.5" width="4" height="1.5"/><rect x="412.5" y="420" width="4" height="1.5"/>
    <rect x="412.5" y="428" width="4" height="1.5"/><rect x="412.5" y="431.5" width="4" height="1.5"/>
    <rect x="434" y="426" width="2" height="2"/><rect x="438" y="426" width="2" height="2"/>
    <rect x="434" y="430" width="2" height="2"/><rect x="438" y="430" width="2" height="2"/>
    <rect x="434" y="435" width="2" height="2"/><rect x="438" y="435" width="2" height="2"/>
  </g>
  <!-- cyan parts -->
  <rect x="420" y="406" width="10" height="32" fill="#86e4f4"/>
  <rect x="420" y="400" width="10" height="7" fill="#5aa8c0" opacity="0.6"/>
  <rect x="499" y="413" width="6" height="25" fill="#2456b8"/>
  <rect x="504" y="416" width="24" height="22" fill="#8fe8f6"/>
  <g fill="#d8d8d8">
    <rect x="499.5" y="418" width="2" height="2"/><rect x="499.5" y="424" width="2" height="2"/><rect x="499.5" y="430" width="2" height="2"/>
  </g>
  <!-- small white chips above cyan -->
  <g fill="#d9d9d9">
    <rect x="507" y="398" width="10" height="3"/><rect x="507" y="403" width="10" height="2.5"/>
    <rect x="519" y="397" width="4" height="9"/>
    <rect x="506" y="408.5" width="3" height="3"/><rect x="511" y="408.5" width="3" height="3"/><rect x="516" y="408.5" width="3" height="3"/><rect x="521" y="408.5" width="3" height="3"/>
    <rect x="494" y="397" width="4" height="8"/>
  </g>
  <!-- green electrolytic caps -->
  <ellipse cx="452" cy="410" rx="12" ry="11" fill="#2f4a33"/>
  <ellipse cx="476" cy="411" rx="20" ry="11" fill="#2f4a33"/>
  <circle cx="463.5" cy="408.5" r="8.6" fill="#6c9069"/>
  <circle cx="487.5" cy="408.5" r="8.6" fill="#6c9069"/>
  <!-- mustard / pink parts -->
  <rect x="450" y="424" width="16" height="4" fill="#caa878"/>
  <rect x="450" y="429" width="38" height="9" fill="#a98f3e"/>
  <rect x="450" y="429" width="14" height="9" fill="#b39c6a"/>
  <rect x="481" y="422" width="12" height="8" fill="#cfae98"/>
  <rect x="468" y="424" width="12" height="5" fill="#1d1d1d"/>
  <rect x="489" y="428" width="10" height="10" fill="#26303a"/>
  <!-- stacked grey squares right -->
  <g>
    <rect x="570" y="425" width="20" height="9" fill="#8c8c8c"/>
    <rect x="570" y="436.5" width="20" height="9" fill="#8c8c8c"/>
    <rect x="570" y="447.5" width="20" height="9" fill="#8c8c8c"/>
    <rect x="570" y="458.5" width="20" height="9" fill="#8c8c8c"/>
    <rect x="564" y="469.5" width="26" height="9" fill="#8c8c8c"/>
    <g fill="#b5b5b5">
      <rect x="577" y="425" width="6" height="9"/><rect x="577" y="436.5" width="6" height="9"/>
      <rect x="577" y="447.5" width="6" height="9"/><rect x="577" y="458.5" width="6" height="9"/>
      <rect x="568" y="469.5" width="6" height="9"/>
    </g>
  </g>
  <rect x="563" y="478" width="30" height="38" fill="#242424"/>
  <!-- green cap on the right -->
  <ellipse cx="552" cy="435" rx="10" ry="7" fill="#1f5a50"/>
  <circle cx="549" cy="434" r="3" fill="#2d8fb5" opacity="0.8"/>
  <circle cx="566" cy="434" r="7.5" fill="#4f8156"/>

  <!-- front green PCB -->
  <path d="M373,438 L563,438 L563,514 L373,516 Z" fill="#476246"/>
  <path d="M373,438 L563,438 L563,440 L373,440 Z" fill="#3c553c"/>
  <path d="M373,508 L563,506 L563,514 L373,516 Z" fill="#3a5139" opacity="0.8"/>

  <!-- ============ MAGNIFIER LENS ============ -->
  <ellipse cx="478" cy="433" rx="58" ry="72" fill="url(#lensHi)"/>
  <!-- metal cylinder seen through the top of the lens -->
  <path d="M449.5,375.5 C453,367 463,361 478,361 C484,361 488,362 491,364 L491,375.5 Z" fill="url(#metal)" opacity="0.92"/>
  <path d="M477.5,364 Q483,361.8 489.5,364 L489.5,381.5 L477.5,381.5 Z" fill="#686868"/>
  <path d="M477.5,364 Q483,361.8 489.5,364 L489.5,367 Q483,365 477.5,367 Z" fill="#9a9a9a"/>
  <path d="M495,370 L507,373.5 L507,382.5 L495,382.5 Z" fill="#c9aa9a" opacity="0.9"/>
  <path d="M449.5,375.5 L491,375.5 L491,377 L449.5,377 Z" fill="#222222" opacity="0.6"/>
  <ellipse cx="478" cy="433" rx="58" ry="72" fill="none" stroke="#ccd6d0" stroke-width="1.2" opacity="0.55"/>
  <!-- bright crescent on the right -->
  <path d="M527,393 C541,420 541,460 523,489 C509,507 494,510 484,507 C499,505 512,497 521,480 C535,455 535,420 527,393 Z" fill="#d4ead8" opacity="0.6"/>
  <path d="M420,420 C418,440 422,462 432,480" fill="none" stroke="#dfe8e2" stroke-width="1.2" opacity="0.35"/>
  <!-- coil springs -->
  <g fill="none" stroke="#e6eee8" stroke-width="1.3" opacity="0.8">
    <ellipse cx="439.0" cy="491" rx="5" ry="7.5"/><ellipse cx="442.5" cy="491" rx="5" ry="7.5"/><ellipse cx="446.0" cy="491" rx="5" ry="7.5"/><ellipse cx="449.5" cy="491" rx="5" ry="7.5"/><ellipse cx="453.0" cy="491" rx="5" ry="7.5"/>
    <ellipse cx="475.5" cy="503.5" rx="5" ry="7.5"/><ellipse cx="479.0" cy="503.5" rx="5" ry="7.5"/><ellipse cx="482.5" cy="503.5" rx="5" ry="7.5"/><ellipse cx="486.0" cy="503.5" rx="5" ry="7.5"/><ellipse cx="489.5" cy="503.5" rx="5" ry="7.5"/>
    <ellipse cx="510.5" cy="491" rx="5" ry="7.5"/><ellipse cx="514.0" cy="491" rx="5" ry="7.5"/><ellipse cx="517.5" cy="491" rx="5" ry="7.5"/><ellipse cx="521.0" cy="491" rx="5" ry="7.5"/><ellipse cx="524.5" cy="491" rx="5" ry="7.5"/>
  </g>

  <!-- ============ RODS / BLOCKS / CYLINDERS ============ -->
  <!-- left rod -->
  <rect x="316.5" y="352.5" width="6.3" height="119" fill="url(#rod)"/>
  <!-- gold square terminals -->
  <g>
    <rect x="292" y="443" width="15" height="11.5" rx="3" fill="#232323"/>
    <rect x="305" y="442.5" width="10.6" height="12.5" rx="2.5" fill="#d9cfbf"/>
    <rect x="307.5" y="445" width="5.6" height="7.5" rx="2" fill="#c8963a"/>
    <rect x="325" y="444" width="13" height="10" rx="3" fill="#262626"/>
    <rect x="336" y="442" width="12.8" height="14" rx="3" fill="#d9cfbf"/>
    <rect x="338.6" y="444.6" width="7.6" height="8.8" rx="2.5" fill="#c8923a"/>
    <circle cx="341.5" cy="447.5" r="1.6" fill="#f2d48c"/>
    <rect x="351" y="466" width="12" height="12" rx="3" fill="#262420"/>
    <circle cx="366" cy="472" r="6.3" fill="#8a6a30"/>
    <circle cx="366" cy="472" r="4.6" fill="#d8a84a"/>
    <circle cx="365" cy="470.5" r="1.8" fill="#f8e0a0"/>
  </g>
  <!-- grey blocks -->
  <rect x="305" y="472" width="28" height="24.5" fill="url(#greyBlk)"/>
  <rect x="586" y="470" width="25" height="24" fill="url(#greyBlk)"/>
  <!-- gold cylinders -->
  <rect x="300.6" y="496" width="32" height="27" fill="url(#gold2)"/>
  <rect x="581" y="494" width="25" height="24" fill="url(#gold)"/>
  <!-- right rod -->
  <rect x="596" y="359" width="6.5" height="111" fill="url(#rod)"/>

  <!-- ============ GLASS FRONT HIGHLIGHTS ============ -->
  <!-- left edge highlights -->
  <path d="M218,524 L218,163 Q218,152 230,151.5 L223,156 Q221,158 221,164 L221,524 Z" fill="#c9c9c9" opacity="0.45"/>
  <!-- brown refraction strip on far left -->
  <rect x="218.5" y="203" width="8.5" height="147" fill="#4a3830" opacity="0.85"/>
  <rect x="218.5" y="350" width="8.5" height="172" fill="#1b1b1b" opacity="0.8"/>
  <rect x="218.5" y="395" width="8.5" height="40" fill="#3a3a3a" opacity="0.5"/>
  <rect x="227" y="158" width="1.8" height="364" fill="#b0b0b0" opacity="0.55"/>
  <rect x="233" y="160" width="1" height="362" fill="#8a8a8a" opacity="0.3"/>
  <rect x="272.5" y="160" width="1.8" height="190" fill="#bdbdbd" opacity="0.5"/>
  <rect x="256" y="336" width="3.4" height="185" fill="#a8a8a8" opacity="0.5"/>
  <rect x="255" y="356" width="30" height="11" fill="#8a8a8a" opacity="0.5"/>
  <rect x="283" y="367" width="1.2" height="153" fill="#6a6a6a" opacity="0.5"/>
  <!-- small bright glints on left edge -->
  <rect x="218.5" y="170" width="6" height="3.5" fill="#e8e8e8" opacity="0.75"/>
  <rect x="218.5" y="193.5" width="5.5" height="4" fill="#e6e6e6" opacity="0.8"/>
  <rect x="219.4" y="513" width="2.8" height="8" fill="#f4ecdc" opacity="0.95"/>
  <rect x="223.8" y="514" width="1.6" height="7" fill="#d8d0c0" opacity="0.8"/>
  <!-- wispy reflections -->
  <path d="M270,205 C268,225 275,250 272,280 C270,300 274,318 271,330" fill="none" stroke="#ffffff" stroke-width="3" opacity="0.22" filter="url(#b1)"/>
  <path d="M268,282 C273,291 275,305 276.5,318 C271,313 267.5,301 266.5,292 Z" fill="#ffffff" stroke="#ffffff" stroke-width="2.6" opacity="0.88" filter="url(#b05)"/>
  <rect x="242" y="158" width="6" height="60" fill="#ffffff" opacity="0.16" filter="url(#b2)"/>
  <path d="M271,158 C273,175 270,190 273,205" fill="none" stroke="#ffffff" stroke-width="2" opacity="0.25" filter="url(#b1)"/>
  <!-- bottom rim of glass -->
  <path d="M217,514 L300,513.2 L300,523.5 L217,525 Z" fill="#7a7a7a" opacity="0.35"/>
  <path d="M217,523 L300,522 L300,524.4 L217,525.5 Z" fill="#9a9a9a" opacity="0.55"/>
  <path d="M334,521.7 L660,518 L660,520 L334,524 Z" fill="#8a8a8a" opacity="0.45"/>
  <path d="M606,513 L660,512 L660,519 L606,519.5 Z" fill="#555555" opacity="0.3"/>
  <!-- right outer edge -->
  <rect x="658.5" y="181" width="1.5" height="338" fill="#6a6a6a" opacity="0.7"/>
  <rect x="653" y="184" width="1" height="170" fill="#5a5a5a" opacity="0.4"/>

  <!-- ============ FITTINGS ============ -->
  <path d="M273,522 L348,521.5 L348,526 Q348,528 346,528 L275,528 Q273,528 273,526 Z" fill="#d83636"/>
  <path d="M283,528 L333,528 L333,552 Q333,556 329,556 L287,556 Q283,556 283,552 Z" fill="url(#redF)"/>
  <path d="M283,528 L333,528 L333,531 L283,531 Z" fill="#b52a2a"/>
  <path d="M563,518 L623,516.5 L619,521 Q618,523 616,523 L566,523.5 Q563,523.5 563,521 Z" fill="#3b6fe8"/>
  <path d="M560,523 L608,523 L608,545 Q608,549 604,549 L564,549 Q560,549 560,545 Z" fill="url(#blueF)"/>
  <path d="M560,523 L608,523 L608,526 L560,526 Z" fill="#2448a8"/>

  <!-- ============ CALLOUTS ============ -->
  <rect x="26" y="597" width="265.5" height="92.5" rx="7.5" fill="#ffffff"/>
  <rect x="484" y="613.2" width="273" height="105.8" rx="7.5" fill="#ffffff"/>
  <path d="M312.2,318 L312.2,612 L290,612" fill="none" stroke="#ffffff" stroke-width="5.4"/>
  <path d="M446.6,410 L446.6,703.5 L485,703.5" fill="none" stroke="#ffffff" stroke-width="5.3"/>
  <circle cx="312.4" cy="318" r="10" fill="#ffffff"/>
  <circle cx="448.4" cy="409.8" r="10.1" fill="#ffffff"/>

  <text class="lbl" x="38.8" y="632" textLength="243.2" lengthAdjust="spacingAndGlyphs">Large-sized cast alumi-</text>
  <text class="lbl" x="38.8" y="661.6" textLength="224" lengthAdjust="spacingAndGlyphs">num heating element</text>
  <text class="lbl" x="497" y="643.6" textLength="241" lengthAdjust="spacingAndGlyphs">Industry innovation in-</text>
  <text class="lbl" x="497.6" y="673.1" textLength="207.5" lengthAdjust="spacingAndGlyphs">stant heating main-</text>
  <text class="lbl" x="497" y="702.8" textLength="62" lengthAdjust="spacingAndGlyphs">board</text>
</svg>
</body>
</html>
